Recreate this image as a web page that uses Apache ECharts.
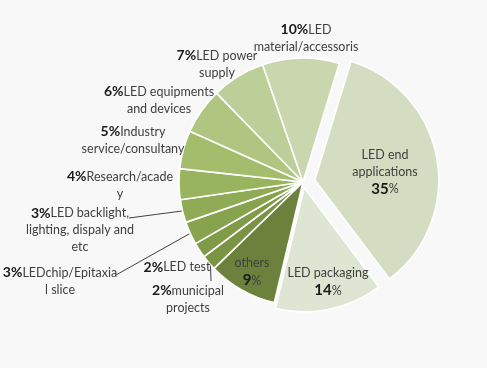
<!DOCTYPE html>
<html>
<head>
<meta charset="utf-8">
<script src="https://cdn.jsdelivr.net/npm/echarts@6/dist/echarts.min.js"></script>
<style>
  html, body { margin: 0; padding: 0; background: #f8f8f8; }
  #chart { width: 487px; height: 368px; }
</style>
</head>
<body>
<div id="chart"></div>
<script>
// ---- data ----
const categories = [
  'LED end\napplications',
  'LED packaging',
  'others',
  'municipal\nprojects',
  'LED test',
  'LEDchip/Epitaxia\nl slice',
  'LED backlight,\nlighting, dispaly and\netc',
  'Research/acade\ny',
  'Industry\nservice/consultany',
  'LED equipments\nand devices',
  'LED power\nsupply',
  'LED\nmaterial/accessoris'
];
const shares = [35, 14, 9, 2, 2, 3, 3, 4, 5, 6, 7, 10];

// ---- styling / layout ----
const colors = ['#d4ddc1', '#dee5d2', '#6b813c', '#7a9444', '#809b47', '#87a34d', '#8fab55', '#99b45f', '#a4bd6d', '#b0c680', '#bdcf98', '#c9d6ae'];
const insideIdx = [0, 1, 2];
const explode = { 0: 12, 1: 6 };   // pixel offset of exploded slices
const labelPos = [
  [385, 172], [328, 282], [252, 272], [188, 299], [177, 267], [60, 281],
  [80, 230], [120, 185], [133, 140], [159, 100], [217, 64], [306, 38]
];
const leaderEnd = { 3: [211, 281], 5: [116, 275], 6: [129, 218] };
const CX = 303, CY = 182, R = 124, START = 73; // startAngle in echarts degrees

const total = shares.reduce((a, b) => a + b, 0);
function midTheta(i) {
  let cum = 0;
  for (let k = 0; k < i; k++) cum += shares[k];
  return (90 - START) + (cum + shares[i] / 2) / total * 360; // clockwise from top
}

function fmt(i) {
  const lines = categories[i].split('\n');
  const v = shares[i];
  if (insideIdx.indexOf(i) >= 0) {
    return lines.map(l => '{n|' + l + '}').join('\n') + '\n{b|' + v + '}{n|%}';
  }
  return '{p|' + v + '%}' + lines.map(l => '{n|' + l + '}').join('\n');
}

const rich = {
  p: { fontFamily: 'Lato', fontWeight: 'bold', fontSize: 14, color: '#1a1a1a', lineHeight: 17 },
  b: { fontFamily: 'Lato', fontWeight: 'bold', fontSize: 15, color: '#1a1a1a', lineHeight: 18 },
  n: { fontFamily: 'Lato', fontSize: 12.5, color: '#404040', lineHeight: 17 }
};

// visibleSet: which slices this series paints
function buildData(isVisible) {
  return shares.map((v, i) => {
    const visible = isVisible(i);
    return {
      name: categories[i],
      value: v,
      itemStyle: visible
        ? { color: colors[i], borderColor: '#ffffff', borderWidth: 1.6 }
        : { color: 'rgba(0,0,0,0)', borderWidth: 0 },
      label: { show: visible, formatter: fmt(i) },
      labelLine: { show: visible && leaderEnd[i] !== undefined }
    };
  });
}

function layoutFn(params) {
  const i = params.dataIndex;
  const p = labelPos[i];
  const out = { x: p[0], y: p[1], align: 'center', verticalAlign: 'middle' };
  if (leaderEnd[i]) {
    const t = midTheta(i) * Math.PI / 180;
    const sx = CX + (R - 2) * Math.sin(t), sy = CY - (R - 2) * Math.cos(t);
    const e = leaderEnd[i];
    out.labelLinePoints = [[sx, sy], [(sx + e[0]) / 2, (sy + e[1]) / 2], [e[0], e[1]]];
  }
  return out;
}

function makeSeries(center, isVisible) {
  return {
    type: 'pie',
    center: center,
    radius: R,
    startAngle: START,
    clockwise: true,
    avoidLabelOverlap: false,
    animation: false,
    silent: true,
    emphasis: { disabled: true },
    label: { position: 'outside', align: 'center', rich: rich },
    labelLine: { lineStyle: { color: '#404040', width: 1 }, smooth: false },
    labelLayout: layoutFn,
    data: buildData(isVisible)
  };
}

function explodedCenter(i) {
  const t = midTheta(i) * Math.PI / 180;
  return [CX + explode[i] * Math.sin(t), CY - explode[i] * Math.cos(t)];
}

const series = [makeSeries([CX, CY], i => explode[i] === undefined)];
Object.keys(explode).forEach(k => {
  const idx = +k;
  series.push(makeSeries(explodedCenter(idx), i => i === idx));
});

const chart = echarts.init(document.getElementById('chart'));
chart.setOption({
  backgroundColor: '#f8f8f8',
  series: series
});
</script>
</body>
</html>
